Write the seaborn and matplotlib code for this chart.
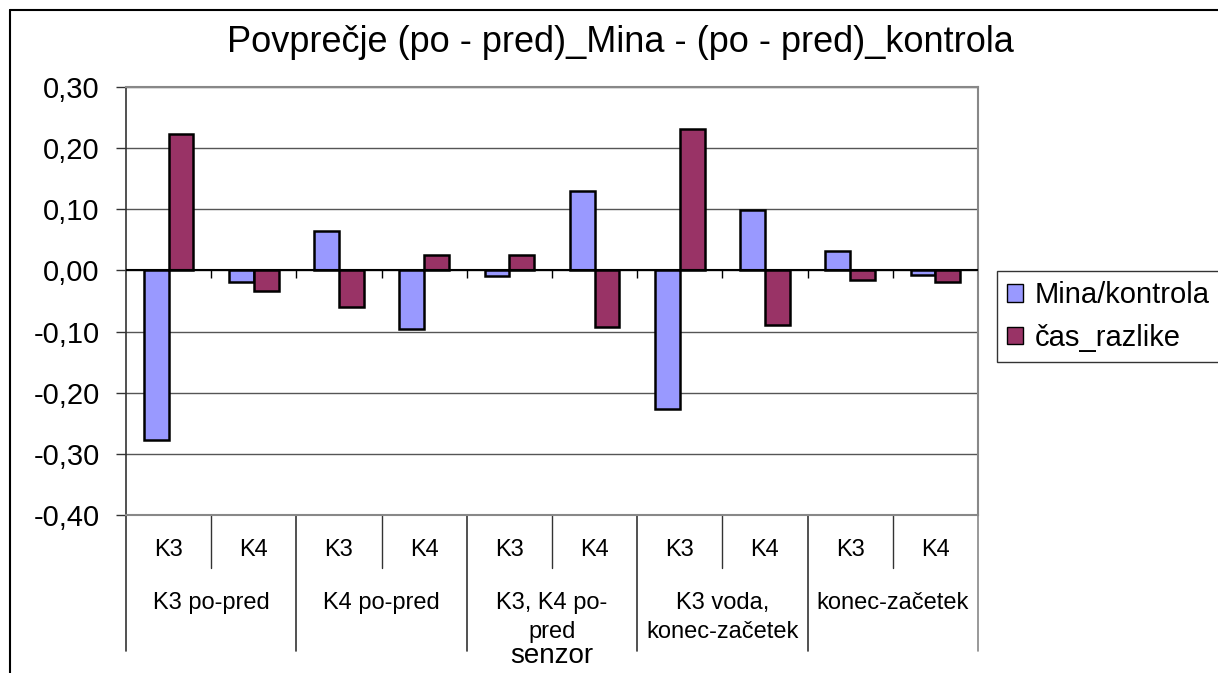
import matplotlib
matplotlib.use('Agg')
import matplotlib.pyplot as plt
import matplotlib.transforms as mtransforms
from matplotlib.lines import Line2D
import pandas as pd
import seaborn as sns

# Data
groups = ['K3 po-pred', 'K4 po-pred', 'K3, K4 po-\npred', 'K3 voda,\nkonec-začetek', 'konec-začetek']
sensors = ['K3', 'K4']
mina_kontrola = [-0.278, -0.019, 0.065, -0.096, -0.009, 0.130, -0.226, 0.099, 0.031, -0.007]
cas_razlike = [0.223, -0.034, -0.060, 0.026, 0.026, -0.093, 0.232, -0.090, -0.016, -0.019]
series_names = ['Mina/kontrola', 'čas_razlike']
colors = ['#9999FF', '#993366']
yticks = [-0.4, -0.3, -0.2, -0.1, 0.0, 0.1, 0.2, 0.3]

sns.set_theme(style='white')
plt.rcParams['font.family'] = ['Liberation Sans', 'DejaVu Sans']
plt.rcParams['text.color'] = 'black'
plt.rcParams['axes.labelcolor'] = 'black'
plt.rcParams['ytick.labelcolor'] = 'black'

# long form table for seaborn
positions = [g + '|' + s for g in groups for s in sensors]
df = pd.DataFrame({
    'pos': positions * 2,
    'value': mina_kontrola + cas_razlike,
    'series': [series_names[0]] * len(positions) + [series_names[1]] * len(positions),
})

W, H = 1218, 673
fig = plt.figure(figsize=(W / 100, H / 100), dpi=100)
ax = fig.add_axes([126 / W, 1 - 515 / H, (978 - 126) / W, (515 - 87) / H])

sns.barplot(data=df, x='pos', y='value', hue='series', order=positions,
            hue_order=series_names, palette=colors, saturation=1, width=0.58,
            edgecolor='black', linewidth=1.8, ax=ax, zorder=3)

ax.set_ylim(-0.4, 0.3)
ax.set_xlim(-0.5, len(positions) - 0.5)
ax.set_yticks(yticks)
ax.set_yticklabels([f'{v:.2f}'.replace('.', ',') for v in yticks], fontsize=21, color='black')
ax.tick_params(axis='y', direction='out', length=7, width=1, color='#333333', pad=12, left=True)
ax.set_xticks([])
ax.set_ylabel('')
ax.set_xlabel('')
ax.yaxis.grid(True, color='#555555', linewidth=1, zorder=0)
ax.axhline(0, color='black', linewidth=1.5, zorder=4)
ax.vlines([i + 0.5 for i in range(len(positions) - 1)], -0.012, 0, color='black', linewidth=1, zorder=4)

for side in ['top', 'right', 'bottom']:
    ax.spines[side].set_color('#888888')
    ax.spines[side].set_linewidth(1.5)
ax.spines['left'].set_color('#333333')
ax.spines['left'].set_linewidth(1.2)

# category axis below the plot
trans = mtransforms.blended_transform_factory(ax.transData, ax.transAxes)
h_px = 515 - 87
for i, s in enumerate(sensors * len(groups)):
    ax.text(i, -35 / h_px, s, transform=trans, ha='center', va='center', fontsize=17, color='black')
for gi, g in enumerate(groups):
    c = gi * 2 + 0.5
    ax.text(c, -77 / h_px, g, transform=trans, ha='center', va='top', fontsize=17,
            linespacing=1.4, color='black')
    ax.add_line(Line2D([c, c], [0, -53 / h_px], transform=trans, color='#333333', lw=1, clip_on=False))
for b in range(len(groups) + 1):
    x = b * 2 - 0.5
    col = '#888888' if b == len(groups) else '#333333'
    ax.add_line(Line2D([x, x], [0, -136 / h_px], transform=trans, color=col, lw=1.2, clip_on=False))

ax.text(0.5, -141 / h_px, 'senzor', transform=ax.transAxes, ha='center', va='center', fontsize=20, color='black')

fig.text(620 / W, 1 - 43 / H, 'Povprečje (po - pred)_Mina - (po - pred)_kontrola',
         ha='center', va='center', fontsize=26, color='black')

handles, labels = ax.get_legend_handles_labels()
leg = ax.legend(handles, labels, loc='upper left', bbox_to_anchor=(997 / W, 1 - 271 / H),
                bbox_transform=fig.transFigure, fontsize=21, frameon=True, fancybox=False,
                handlelength=0.55, handleheight=0.55, handletextpad=0.4, labelspacing=0.5,
                borderpad=0.35, borderaxespad=0, title=None)
leg.get_frame().set_edgecolor('black')
leg.get_frame().set_linewidth(1)
for t in leg.get_texts():
    t.set_color('black')
for p in leg.get_patches():
    p.set_edgecolor('black')
    p.set_linewidth(1)

# outer chart border
fig.add_artist(Line2D([10 / W, 1], [1 - 10 / H, 1 - 10 / H], transform=fig.transFigure, color='black', lw=1.5))
fig.add_artist(Line2D([10 / W, 10 / W], [0, 1 - 10 / H], transform=fig.transFigure, color='black', lw=1.5))

fig.savefig('out.png', dpi=100, facecolor='white')
